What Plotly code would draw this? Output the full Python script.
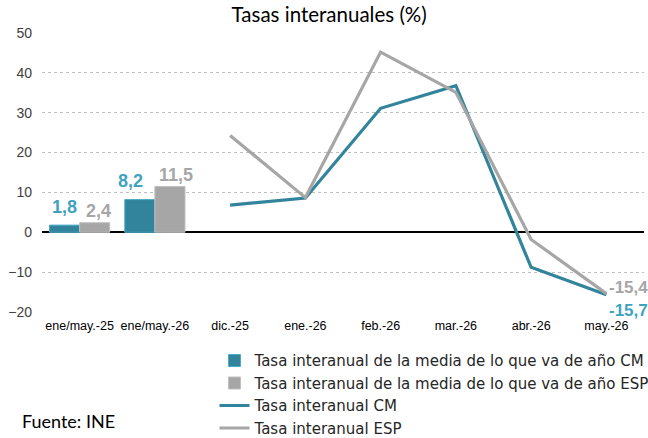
import plotly.graph_objects as go

# Categories and values
categorias = ['ene/may.-25', 'ene/may.-26', 'dic.-25', 'ene.-26', 'feb.-26', 'mar.-26', 'abr.-26', 'may.-26']
media_cm = [1.8, 8.2, None, None, None, None, None, None]
media_esp = [2.4, 11.5, None, None, None, None, None, None]
tasa_cm = [None, None, 6.8, 8.6, 31.1, 36.8, -8.8, -15.7]
tasa_esp = [None, None, 24.3, 8.7, 45.2, 35.1, -1.8, -15.4]

TEAL = '#31849B'
TEAL_LBL = '#3FA3C0'
GREY = '#A6A6A6'
LBL_FONT = 'Liberation Sans, Arial'


def fmt(v):
    return '<b>' + f'{v:.1f}'.replace('.', ',') + '</b>'


fig = go.Figure()

fig.add_trace(go.Bar(
    x=categorias, y=media_cm, name='Tasa interanual de la media de lo que va de año CM',
    marker=dict(color=TEAL, line=dict(color='#4BACC6', width=1)),
))
fig.add_trace(go.Bar(
    x=categorias, y=media_esp, name='Tasa interanual de la media de lo que va de año ESP',
    marker=dict(color=GREY, line=dict(color='#BFBFBF', width=1)),
))
fig.add_trace(go.Scatter(
    x=categorias, y=tasa_cm, name='Tasa interanual CM', mode='lines',
    line=dict(color=TEAL, width=3.2),
))
fig.add_trace(go.Scatter(
    x=categorias, y=tasa_esp, name='Tasa interanual ESP', mode='lines',
    line=dict(color=GREY, width=3.2),
))

# bar value labels (offsets as placed in the original)
cm_shift = [(-15, 18), (-24, 19)]
esp_shift = [(19, 12), (21, 11)]
for (cat, v), (dx, dy) in zip(zip(categorias, media_cm), cm_shift):
    fig.add_annotation(x=cat, y=v, text=fmt(v), showarrow=False, xshift=dx, yshift=dy,
                       yanchor='middle', font=dict(family=LBL_FONT, size=18, color=TEAL_LBL))
for (cat, v), (dx, dy) in zip(zip(categorias, media_esp), esp_shift):
    fig.add_annotation(x=cat, y=v, text=fmt(v), showarrow=False, xshift=dx, yshift=dy,
                       yanchor='middle', font=dict(family=LBL_FONT, size=18, color=GREY))

# end-of-line labels for the last month
fig.add_annotation(x=categorias[-1], y=tasa_esp[-1], text=fmt(tasa_esp[-1]),
                   xanchor='left', yanchor='middle', xshift=1, yshift=6, showarrow=False,
                   font=dict(family=LBL_FONT, size=17, color=GREY))
fig.add_annotation(x=categorias[-1], y=tasa_cm[-1], text=fmt(tasa_cm[-1]),
                   xanchor='left', yanchor='middle', xshift=1, yshift=-16, showarrow=False,
                   font=dict(family=LBL_FONT, size=17, color=TEAL_LBL))

fig.add_annotation(
    text='Fuente: INE', xref='paper', yref='paper', x=-0.037, y=-0.391,
    xanchor='left', yanchor='middle', showarrow=False,
    font=dict(family='Lato, Open Sans', size=18, color='#000000'),
)

fig.update_layout(
    width=648, height=438,
    margin=dict(l=42, r=4, t=33, b=126, autoexpand=False),
    paper_bgcolor='white', plot_bgcolor='white',
    separators=',.',
    barmode='group', bargap=0.2, bargroupgap=0,
    title=dict(text='Tasas interanuales (%)', x=0.508, xanchor='center', y=0.966, yanchor='middle',
               font=dict(family='Lato, Open Sans', size=20.5, color='#000000')),
    font=dict(family=LBL_FONT, size=12, color='#404040'),
    showlegend=True,
    legend=dict(x=0.331, xref='container', y=0.214, yref='container',
                xanchor='left', yanchor='top', orientation='v',
                font=dict(family='DejaVu Sans, Liberation Sans', size=15, color='#262626'),
                tracegroupgap=0, itemwidth=30, traceorder='normal',
                bgcolor='rgba(0,0,0,0)'),
    xaxis=dict(type='category', range=[-0.5, len(categorias) - 0.5], showgrid=False,
               showline=False, ticks='', ticklabelstandoff=4,
               tickfont=dict(size=12.5, color='#000000')),
    yaxis=dict(range=[-20, 50], dtick=10, showgrid=True, gridcolor='#BFBFBF',
               griddash='dot', gridwidth=1, zeroline=True, zerolinecolor='#000000',
               zerolinewidth=2, ticks='', ticklabelstandoff=9,
               tickfont=dict(size=14, color='#404040')),
)

fig.write_html('out.html', config={'displayModeBar': False},
               post_script="document.body.style.margin='0';")
